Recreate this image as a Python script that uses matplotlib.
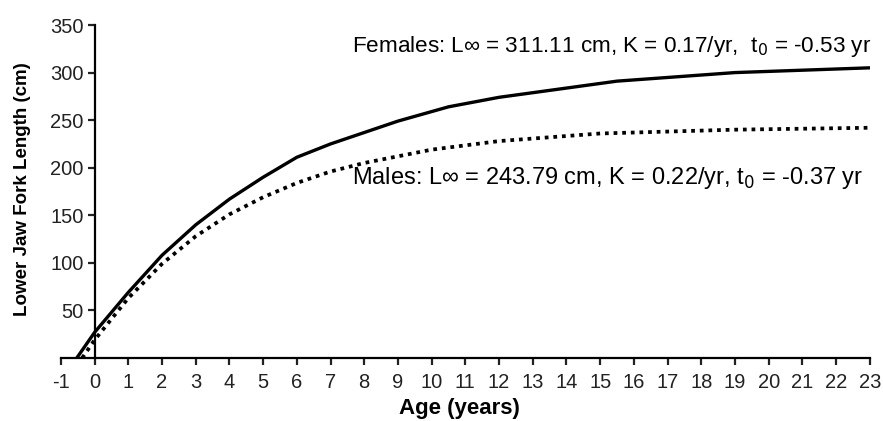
import matplotlib
matplotlib.use("Agg")
import matplotlib.pyplot as plt

plt.rcParams['font.family'] = ['Liberation Sans', 'DejaVu Sans']
plt.rcParams['axes.unicode_minus'] = False

# values (cm at age in years)
female_age = [-0.53, 0, 1, 2, 3, 4, 5, 6, 7, 8, 9, 10.5, 12, 15.5, 19, 23]
female_len = [0, 27, 69, 108, 140, 167, 190, 211, 225, 237, 249, 264, 274, 291, 300, 305]

male_age = [-0.37, 0, 1, 2, 3, 4, 5, 6, 7, 8, 10, 12, 15, 19, 23]
male_len = [0, 19, 63, 99, 128, 151, 169, 184, 196, 205, 219, 228, 236, 240, 242]

female_txt = "Females: L\u221e = 311.11 cm, K = 0.17/yr,  t$_0$ = -0.53 yr"
male_txt = "Males: L\u221e = 243.79 cm, K = 0.22/yr, t$_0$ = -0.37 yr"

x_ticks = list(range(-1, 24))
y_ticks = [50, 100, 150, 200, 250, 300, 350]

fig = plt.figure(figsize=(8.83, 4.21), dpi=100)
ax = fig.add_axes([0.069, 0.1496, 0.916, 0.791])

ax.plot(female_age, female_len, color='black', lw=2.4)
ax.plot(male_age, male_len, color='black', lw=2.7, linestyle=(0, (1, 1.3)))

ax.set_xlim(-1, 23)
ax.set_ylim(0, 350)
ax.spines['left'].set_position(('data', 0))
ax.spines['top'].set_visible(False)
ax.spines['right'].set_visible(False)
for s in ['left', 'bottom']:
    ax.spines[s].set_linewidth(1.6)

ax.set_xticks(x_ticks)
ax.set_yticks(y_ticks)
ax.tick_params(axis='both', direction='out', length=5, width=1.6, labelsize=14.5, colors='#222222')
ax.tick_params(axis='x', pad=6)
ax.tick_params(axis='y', pad=3)

ax.text(23.05, 327, female_txt, ha='right', va='center', fontsize=16.2)
ax.text(22.8, 189, male_txt, ha='right', va='center', fontsize=17)

fig.text(0.52, 0.03, "Age (years)", ha='center', va='center', fontsize=16, fontweight='bold')
fig.text(0.025, 0.55, "Lower Jaw Fork Length (cm)", ha='center', va='center',
         rotation=90, fontsize=13.5, fontweight='bold')

fig.savefig("out.png", dpi=100)
